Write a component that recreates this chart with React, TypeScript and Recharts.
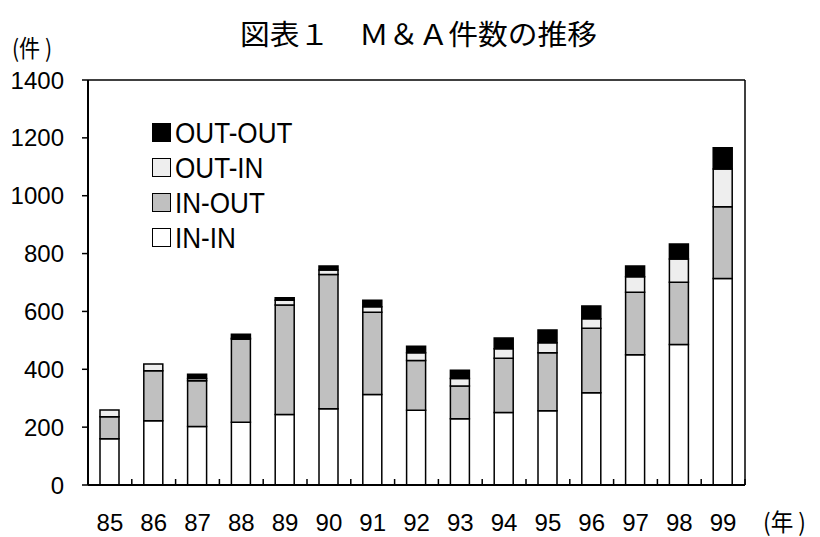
import { BarChart, Bar, XAxis, YAxis, Legend, ReferenceLine } from "recharts"

const years = ["85", "86", "87", "88", "89", "90", "91", "92", "93", "94", "95", "96", "97", "98", "99"]
const inIn = [160, 222, 202, 217, 244, 264, 313, 258, 229, 251, 257, 319, 450, 486, 714]
const inOut = [76, 173, 158, 287, 378, 464, 284, 172, 113, 187, 200, 223, 216, 215, 248]
const outIn = [23, 23, 8, 3, 17, 15, 19, 27, 26, 33, 35, 33, 54, 80, 130]
const outOut = [0, 0, 15, 14, 8, 14, 23, 23, 29, 37, 44, 44, 37, 52, 74]
const yTicks = [0, 200, 400, 600, 800, 1000, 1200, 1400]

const data = years.map((year, i) => ({
  year,
  inIn: inIn[i],
  inOut: inOut[i],
  outIn: outIn[i],
  outOut: outOut[i],
}))

const series = [
  { key: "inIn", name: "IN-IN", color: "#ffffff" },
  { key: "inOut", name: "IN-OUT", color: "#c0c0c0" },
  { key: "outIn", name: "OUT-IN", color: "#eeeeee" },
  { key: "outOut", name: "OUT-OUT", color: "#000000" },
]

const W = 820
const H = 537
const margin = { top: 80, right: 74, bottom: 0, left: 28 }
const Y_WIDTH = 60
const band = (W - margin.left - Y_WIDTH - margin.right - 1) / years.length
const numFont = "'Liberation Sans', Arial, sans-serif"
const jpFont = "'Noto Sans CJK JP', sans-serif"

function YearTick(props: any) {
  const { x, y, payload } = props
  return (
    <g>
      <line x1={x + band / 2} x2={x + band / 2} y1={y} y2={y - 6} stroke="#000" strokeWidth={1.5} />
      <text x={x} y={y + 46} textAnchor="middle" fontSize={24} fontFamily={numFont} fill="#000">
        {payload.value}
      </text>
    </g>
  )
}

function LegendBox() {
  return (
    <div style={{ fontFamily: numFont, fontSize: 30, lineHeight: 1, color: "#000" }}>
      {[...series].reverse().map((s) => (
        <div key={s.key} style={{ display: "flex", alignItems: "center", height: 35 }}>
          <span
            style={{
              boxSizing: "border-box",
              width: 19,
              height: 19,
              background: s.color,
              border: "1.5px solid #000",
              marginRight: 4,
            }}
          />
          <span style={{ display: "inline-block", transform: "scaleX(0.87)", transformOrigin: "left center", whiteSpace: "nowrap" }}>
            {s.name}
          </span>
        </div>
      ))}
    </div>
  )
}

export default function App() {
  return (
    <div style={{ position: "absolute", left: 0, top: 0, width: W, height: H, background: "#fff" }}>
      <BarChart width={W} height={H} data={data} margin={margin} barSize={19}>
        <XAxis
          dataKey="year"
          height={52}
          axisLine={{ stroke: "#000", strokeWidth: 2 }}
          tickLine={false}
          tickSize={0}
          tickMargin={0}
          tick={<YearTick />}
          interval={0}
        />
        <YAxis
          width={Y_WIDTH}
          domain={[0, 1400]}
          ticks={yTicks}
          interval={0}
          axisLine={{ stroke: "#000", strokeWidth: 2 }}
          tickLine={{ stroke: "#000", strokeWidth: 1.5 }}
          tickSize={6}
          tickMargin={18}
          tick={{ fontSize: 24, fontFamily: numFont, fill: "#000" }}
        />
        <YAxis
          yAxisId="frame"
          orientation="right"
          width={1}
          domain={[0, 1400]}
          tick={false}
          tickLine={false}
          axisLine={{ stroke: "#000", strokeWidth: 1.5 }}
        />
        <ReferenceLine y={1400} stroke="#000" strokeWidth={1.5} />
        <Legend
          layout="vertical"
          align="center"
          verticalAlign="middle"
          content={<LegendBox />}
          wrapperStyle={{ top: 115, left: 152, width: 180 }}
        />
        {series.map((s) => (
          <Bar
            key={s.key}
            dataKey={s.key}
            name={s.name}
            stackId="a"
            fill={s.color}
            stroke="#000"
            strokeWidth={1.5}
            isAnimationActive={false}
          />
        ))}
      </BarChart>
      <svg
        width={W}
        height={H}
        style={{ position: "absolute", left: 0, top: 0, pointerEvents: "none" }}
      >
        <text x={240} y={45} fontSize={28} fontFamily={jpFont} textLength={357} lengthAdjust="spacingAndGlyphs" fill="#000">
          図表１　Ｍ＆Ａ件数の推移
        </text>
        <text x={12} y={57} fontSize={24} fontFamily={jpFont} textLength={40} lengthAdjust="spacingAndGlyphs" fill="#000">
          (件 )
        </text>
        <text x={763} y={531} fontSize={24} fontFamily={jpFont} textLength={43} lengthAdjust="spacingAndGlyphs" fill="#000">
          (年 )
        </text>
      </svg>
    </div>
  )
}
